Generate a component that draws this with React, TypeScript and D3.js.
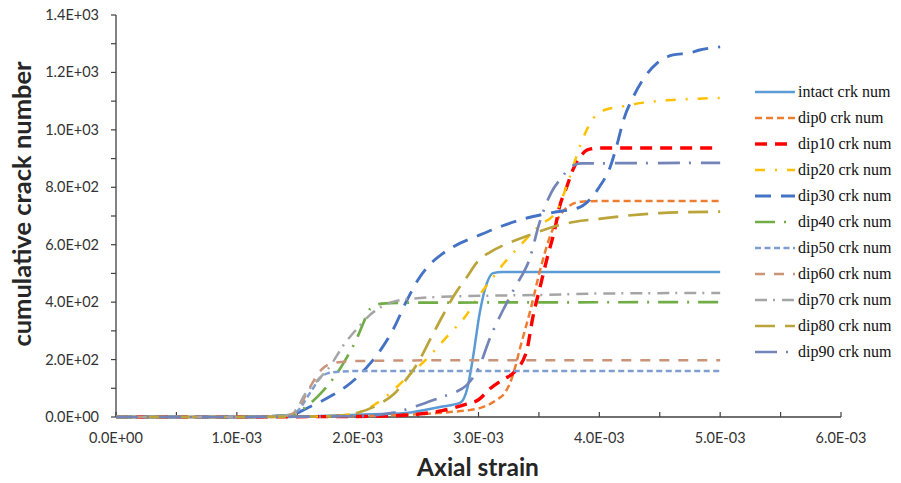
import React from 'react';
import * as d3 from 'd3';

// strain values are in units of 1E-03
const intactX = [0, 1.0, 1.5, 2.0, 2.4, 2.68, 2.85, 2.91, 2.955, 3.01, 3.07, 3.12, 3.2, 5.0];
const intactY = [0, 0, 2, 8, 14, 35, 50, 104, 209, 362, 467, 501, 505, 505];

const dip0X = [0, 1.0, 1.5, 2.0, 2.4, 2.7, 3.0, 3.15, 3.22, 3.28, 3.35, 3.43, 3.51, 3.59, 3.67, 3.75, 3.85, 4.0, 5.0];
const dip0Y = [0, 0, 1, 3, 8, 15, 30, 60, 85, 140, 250, 373, 512, 627, 700, 735, 750, 752, 752];

const dip10X = [0, 1.0, 1.5, 2.0, 2.2, 2.5, 2.7, 2.9, 3.0, 3.1, 3.2, 3.3, 3.4, 3.45, 3.51, 3.57, 3.63, 3.67, 3.73, 3.78, 3.84, 3.9, 4.0, 5.0];
const dip10Y = [0, 0, 1, 2, 3, 10, 22, 45, 60, 100, 130, 158, 233, 348, 453, 557, 651, 731, 801, 860, 905, 930, 937, 937];

const dip20X = [0, 1.0, 1.5, 1.8, 2.0, 2.2, 2.4, 2.6, 2.75, 2.9, 3.0, 3.1, 3.2, 3.35, 3.5, 3.65, 3.75, 3.85, 3.95, 4.05, 4.2, 4.35, 4.6, 5.0];
const dip20Y = [0, 0, 1, 4, 15, 60, 135, 215, 285, 355, 420, 475, 530, 600, 665, 720, 830, 955, 1040, 1070, 1082, 1094, 1104, 1111];

const dip30X = [0, 1.0, 1.4, 1.5, 1.6, 1.7, 1.8, 1.9, 2.0, 2.1, 2.2, 2.3, 2.4, 2.5, 2.6, 2.7, 2.8, 3.0, 3.2, 3.4, 3.6, 3.84, 4.0, 4.09, 4.15, 4.2, 4.28, 4.36, 4.48, 4.61, 4.75, 4.83, 5.0];
const dip30Y = [0, 0, 5, 14, 35, 55, 78, 105, 140, 185, 240, 310, 400, 478, 532, 568, 595, 632, 666, 693, 711, 731, 801, 871, 954, 1034, 1114, 1174, 1233, 1261, 1268, 1278, 1289];

const dip40X = [0, 1.0, 1.4, 1.5, 1.6, 1.7, 1.8, 1.9, 2.0, 2.05, 2.1, 2.2, 2.4, 5.0];
const dip40Y = [0, 0, 5, 15, 45, 85, 135, 200, 280, 330, 375, 395, 398, 400];

const dip50X = [0, 1.0, 1.4, 1.5, 1.6, 1.7, 1.75, 1.85, 2.0, 5.0];
const dip50Y = [0, 0, 3, 20, 80, 140, 152, 158, 160, 160];

const dip60X = [0, 1.0, 1.4, 1.5, 1.6, 1.7, 1.8, 2.0, 3.0, 5.0];
const dip60Y = [0, 0, 3, 25, 100, 165, 188, 195, 198, 198];

const dip70X = [0, 1.0, 1.4, 1.5, 1.55, 1.65, 1.75, 1.9, 2.0, 2.1, 2.2, 2.4, 2.8, 3.5, 4.0, 5.0];
const dip70Y = [0, 0, 5, 30, 70, 120, 165, 260, 310, 355, 385, 410, 420, 425, 430, 432];

const dip80X = [0, 1.0, 1.5, 1.8, 2.0, 2.2, 2.3, 2.4, 2.5, 2.6, 2.7, 2.8, 2.9, 3.0, 3.1, 3.2, 3.4, 3.6, 3.8, 4.0, 4.2, 4.5, 5.0];
const dip80Y = [0, 0, 1, 3, 15, 50, 80, 130, 190, 270, 350, 425, 485, 545, 575, 597, 630, 660, 680, 690, 700, 710, 715];

const dip90X = [0, 1.0, 1.5, 2.0, 2.3, 2.5, 2.7, 2.8, 2.9, 3.0, 3.1, 3.2, 3.3, 3.43, 3.5, 3.6, 3.7, 3.75, 3.85, 5.0];
const dip90Y = [0, 0, 1, 3, 15, 40, 70, 85, 110, 170, 280, 370, 450, 560, 670, 780, 840, 866, 883, 885];

const seriesNames = [
  'intact crk num', 'dip0 crk num', 'dip10 crk num', 'dip20 crk num', 'dip30 crk num',
  'dip40 crk num', 'dip50 crk num', 'dip60 crk num', 'dip70 crk num', 'dip80 crk num', 'dip90 crk num',
];
const seriesX = [intactX, dip0X, dip10X, dip20X, dip30X, dip40X, dip50X, dip60X, dip70X, dip80X, dip90X];
const seriesY = [intactY, dip0Y, dip10Y, dip20Y, dip30Y, dip40Y, dip50Y, dip60Y, dip70Y, dip80Y, dip90Y];

const colors = ['#5B9BD5', '#ED7D31', '#FF0000', '#FFC000', '#4472C4', '#70AD47', '#7E9ECF', '#C99478', '#A5A5A5', '#BBA53A', '#7384B8'];
const dashes = ['none', '7,4', '12,8', '10,10,2,10', '16,10', '20,9,2,9', '6,3.5', '10,9', '12,6,2,7', '20,10', '22,9,2,10'];
const widths = [2.5, 2.5, 3.4, 2.5, 2.9, 2.7, 2.5, 2.5, 2.5, 2.7, 2.7];

const xTicks = [0, 1, 2, 3, 4, 5, 6];
const yTicks = [0, 200, 400, 600, 800, 1000, 1200, 1400];

const W = 901;
const H = 483;
const m = { left: 116, right: 841, top: 15, bottom: 417 };

// Excel-like scientific format, e.g. 1.4E+03
const fmtE = (v: number) => {
  if (v === 0) return '0.0E+00';
  const e = Math.floor(Math.log10(Math.abs(v)) + 1e-9);
  const mant = v / Math.pow(10, e);
  return `${mant.toFixed(1)}E${e < 0 ? '-' : '+'}${String(Math.abs(e)).padStart(2, '0')}`;
};

export default function App() {
  const x = d3.scaleLinear().domain([0, 6]).range([m.left, m.right]);
  const y = d3.scaleLinear().domain([0, 1400]).range([m.bottom, m.top]);

  const line = d3
    .line<[number, number]>()
    .x((d) => x(d[0]))
    .y((d) => y(d[1]))
    .curve(d3.curveMonotoneX);

  const xMinor = d3.range(0, 6.001, 0.5);
  const yMinor = d3.range(0, 1401, 100);
  const axisCol = '#404040';
  const sans = 'Lato, "Open Sans", sans-serif';

  return (
    <svg width={W} height={H} style={{ position: 'absolute', left: 0, top: 0, background: '#fff' }}>
      {/* axes */}
      <line x1={m.left} x2={m.left} y1={m.top} y2={m.bottom} stroke={axisCol} strokeWidth={1.3} />
      <line x1={m.left} x2={m.right} y1={m.bottom} y2={m.bottom} stroke={axisCol} strokeWidth={1.6} />
      {yMinor.map((t) => (
        <line key={'yt' + t} x1={m.left - 5} x2={m.left} y1={y(t)} y2={y(t)} stroke={axisCol} strokeWidth={1.2} />
      ))}
      {xMinor.map((t) => (
        <line key={'xt' + t} x1={x(t)} x2={x(t)} y1={m.bottom - 5} y2={m.bottom} stroke={axisCol} strokeWidth={1.2} />
      ))}
      {yTicks.map((t) => (
        <text key={'yl' + t} x={99} y={y(t) + 5} textAnchor="end" fontFamily={sans} fontSize={14.5} fill="#333">
          {fmtE(t)}
        </text>
      ))}
      {xTicks.map((t) => (
        <text key={'xl' + t} x={x(t)} y={443} textAnchor="middle" fontFamily={sans} fontSize={14.5} fill="#333">
          {fmtE(t * 1e-3)}
        </text>
      ))}
      <text x={478} y={476} textAnchor="middle" fontFamily={sans} fontWeight="bold" fontSize={24.5} fill="#262626">
        Axial strain
      </text>
      <text
        transform={`translate(31,204) rotate(-90)`}
        textAnchor="middle"
        fontFamily={sans}
        fontWeight="bold"
        fontSize={25.5}
        fill="#262626"
      >
        cumulative crack number
      </text>

      {/* series */}
      {seriesNames.map((name, i) => {
        const pts = seriesX[i].map((v, k) => [v, seriesY[i][k]] as [number, number]);
        return (
          <path
            key={name}
            d={line(pts) || ''}
            fill="none"
            stroke={colors[i]}
            strokeWidth={widths[i]}
            strokeDasharray={dashes[i]}
          />
        );
      })}

      {/* legend */}
      {seriesNames.map((name, i) => {
        const ly = 92 + i * 26;
        return (
          <g key={'lg' + name}>
            <line x1={755} x2={795} y1={ly} y2={ly} stroke={colors[i]} strokeWidth={widths[i]} strokeDasharray={dashes[i]} />
            <text x={798} y={ly + 5} fontFamily='"Liberation Serif", "Times New Roman", serif' fontSize={16} fill="#111">
              {name}
            </text>
          </g>
        );
      })}
    </svg>
  );
}
